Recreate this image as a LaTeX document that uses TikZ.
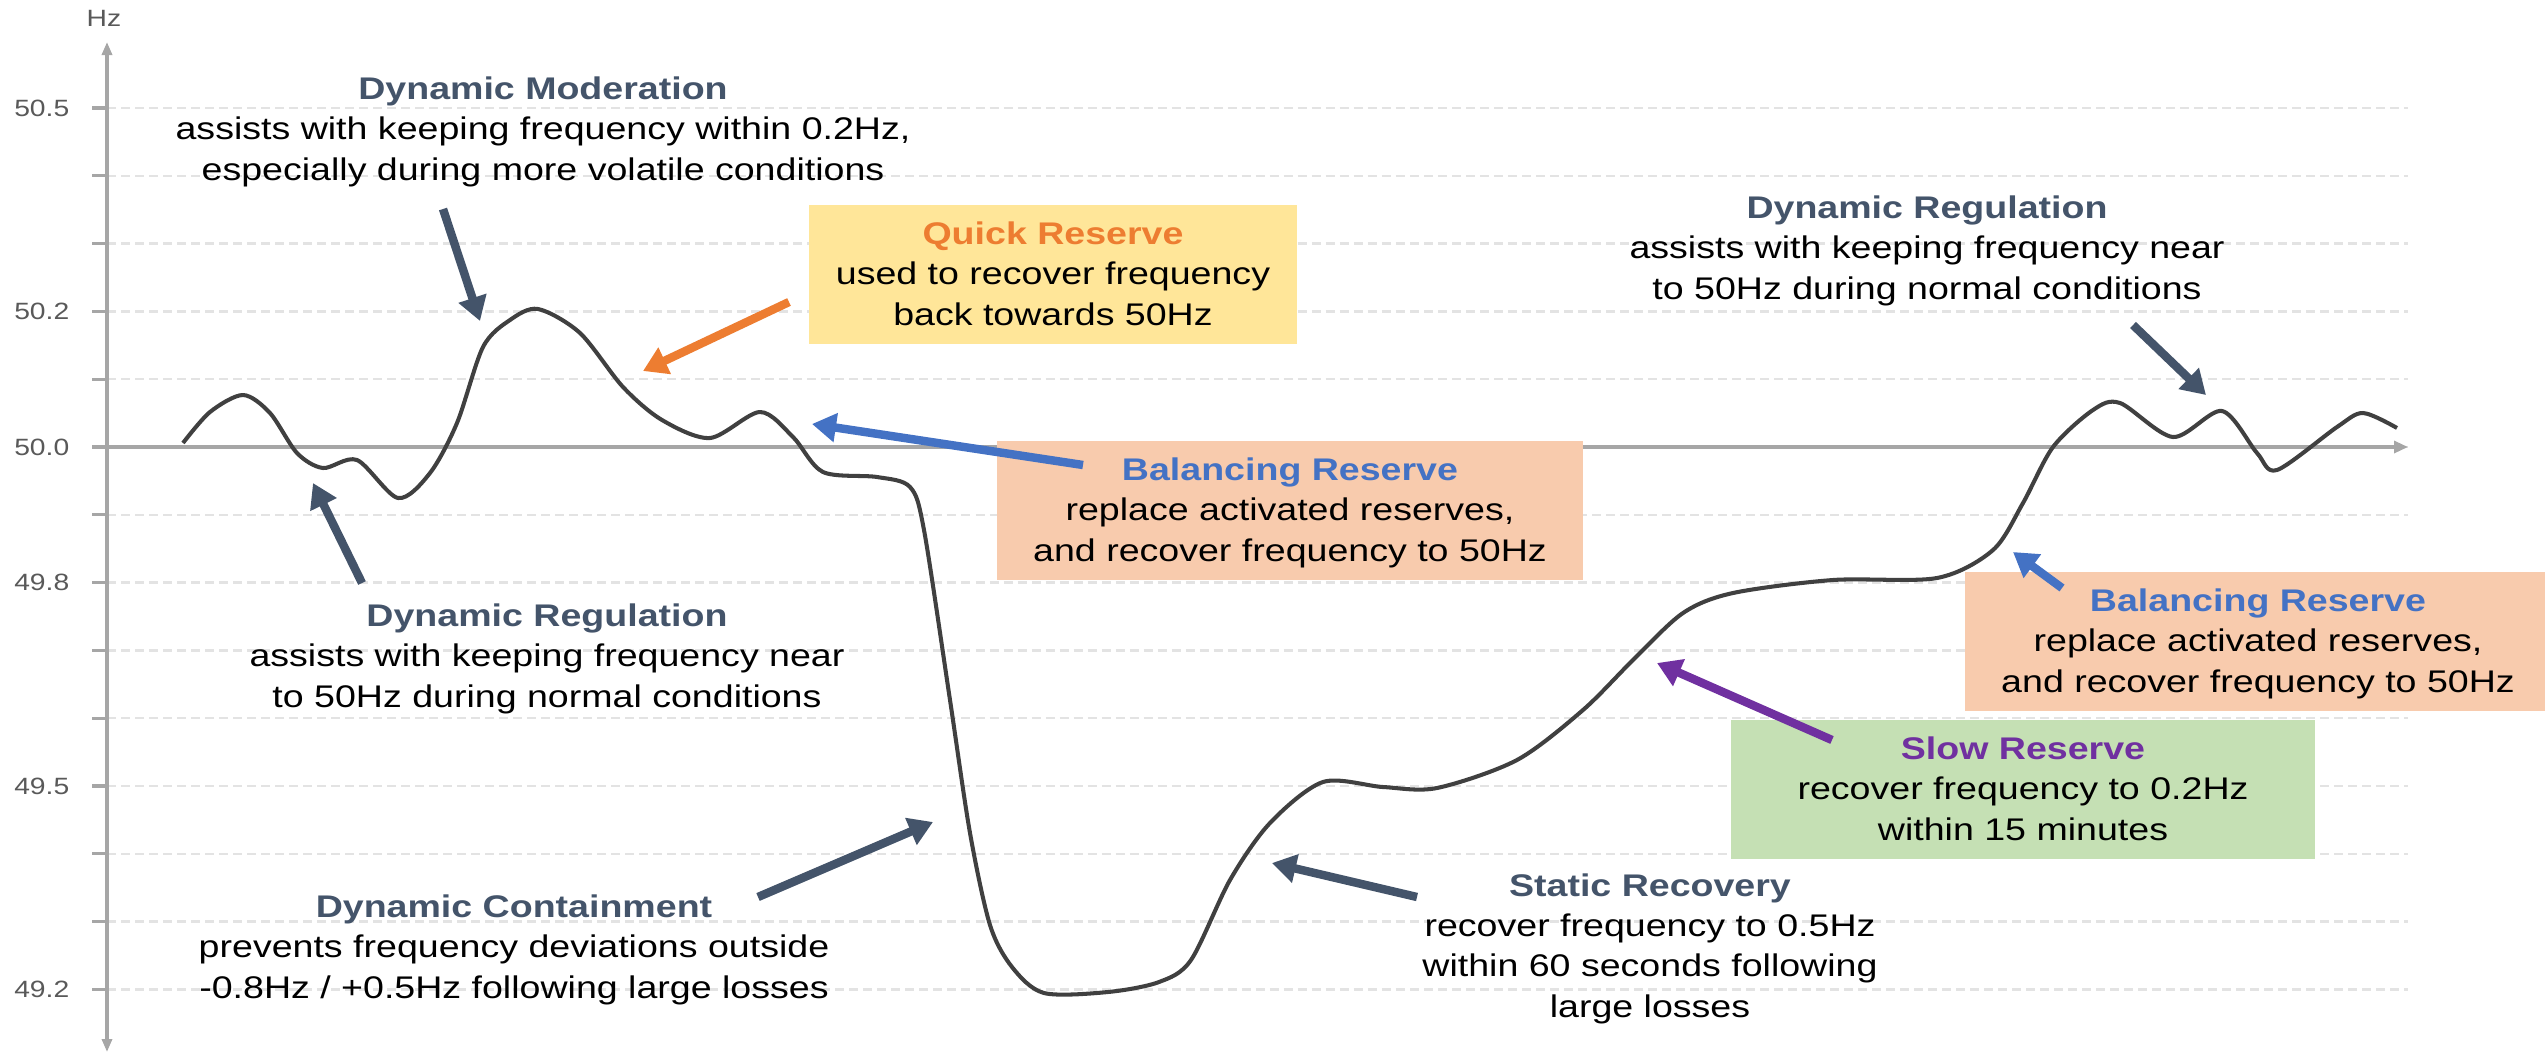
\documentclass[tikz,border=0pt]{standalone}
\usepackage{fontspec}
\setmainfont{Liberation Sans}[FakeStretch=1.2]
\usetikzlibrary{arrows.meta}

\definecolor{slate}{HTML}{44546A}
\definecolor{quickor}{HTML}{ED7D31}
\definecolor{balblue}{HTML}{4472C4}
\definecolor{slowpurple}{HTML}{7030A0}
\definecolor{quickfill}{HTML}{FFE699}
\definecolor{balfill}{HTML}{F8CBAD}
\definecolor{slowfill}{HTML}{C5E0B4}
\definecolor{axisgray}{HTML}{A6A6A6}
\definecolor{gridgray}{HTML}{E3E3E3}
\definecolor{curvegray}{HTML}{404040}
\definecolor{ticktext}{HTML}{595959}

\begin{document}
\begin{tikzpicture}[x=0.01cm, y=-0.01cm,
	gridline/.style={gridgray, line width=0.7pt, dash pattern=on 0.09cm off 0.05cm},
	axisline/.style={axisgray, line width=0.9pt},
	freqline/.style={curvegray, line width=1.15pt, line join=round},
	pointer/.style={line width=2.4pt, -{Triangle[length=0.24cm, width=0.28cm]}},
	note/.style={align=center, inner sep=0pt, anchor=base, font=\fontsize{8.9pt}{11.38pt}\selectfont},
	resbox/.style={note, text height=1.2cm, text depth=0.185cm},
	ticklabel/.style={ticktext, inner sep=0pt, anchor=east, font=\fontsize{6.7pt}{8pt}\selectfont}]

\useasboundingbox (0,0) rectangle (2545,1057);

% draw grid lines and ticks
	\foreach \i in {0,...,13}{
		\draw[gridline] (107,{108+67.8*\i}) -- (2408,{108+67.8*\i});
		\draw[axisline] (92,{108+67.8*\i}) -- (107,{108+67.8*\i});
	}

% draw Coordinates
	\draw[axisline, {Triangle[length=0.13cm, width=0.1cm]}-{Triangle[length=0.13cm, width=0.1cm]}] (107,1052) -- (107,42);
	\draw[axisline, -{Triangle[length=0.14cm, width=0.12cm]}] (92,447) -- (2408,447);
	\node[ticklabel, anchor=base] (hz) at (104,26) {Hz};
	\foreach \i/\v in {0/50.5, 3/50.2, 5/50.0, 7/49.8, 10/49.5, 13/49.2}
		\node[ticklabel] (tick\i) at (70,{108+67.8*\i}) {\v};

% frequency trace
	\draw[freqline] plot[smooth] coordinates {
		(183,443) (210,412) (243,395) (270,413) (297,453) (323,468) (357,460)
		(398,498) (430,473) (457,423) (483,347) (510,320) (538,309) (580,333)
		(623,387) (662,420) (710,438) (760,412) (793,437) (823,472) (877,477)
		(910,487) (924,530) (950,700) (970,833) (990,925) (1012,967) (1044,993)
		(1108,992) (1159,982) (1191,960) (1230,880) (1270,823) (1323,782)
		(1383,787) (1437,788) (1517,760) (1583,710) (1633,660) (1683,613)
		(1733,593) (1833,580) (1937,578) (1993,550) (2023,503) (2053,447)
		(2093,410) (2120,403) (2173,437) (2222,411) (2257,453) (2277,470)
		(2337,427) (2363,413) (2397,428)};

% service boxes (placed at the last baseline)
	\node[resbox, fill=quickfill, minimum width=4.88cm] (quick) at (1053,325)
		{\textcolor{quickor}{\bfseries Quick Reserve}\\used to recover frequency\\back towards 50Hz};
	\node[resbox, fill=balfill, minimum width=5.86cm] (balmid) at (1290,561)
		{\textcolor{balblue}{\bfseries Balancing Reserve}\\replace activated reserves,\\and recover frequency to 50Hz};
	\node[resbox, fill=balfill, minimum width=5.86cm] (balright) at (2258,692)
		{\textcolor{balblue}{\bfseries Balancing Reserve}\\replace activated reserves,\\and recover frequency to 50Hz};
	\node[resbox, fill=slowfill, minimum width=5.83cm] (slow) at (2023,840)
		{\textcolor{slowpurple}{\bfseries Slow Reserve}\\recover frequency to 0.2Hz\\within 15 minutes};

% plain notes
	\node[note] (dmod) at (543,180)
		{\textcolor{slate}{\bfseries Dynamic Moderation}\\assists with keeping frequency within 0.2Hz,\\especially during more volatile conditions};
	\node[note] (dregleft) at (547,707)
		{\textcolor{slate}{\bfseries Dynamic Regulation}\\assists with keeping frequency near\\to 50Hz during normal conditions};
	\node[note] (dcont) at (514,998)
		{\textcolor{slate}{\bfseries Dynamic Containment}\\prevents frequency deviations outside\\-0.8Hz / +0.5Hz following large losses};
	\node[note] (dregright) at (1927,299)
		{\textcolor{slate}{\bfseries Dynamic Regulation}\\assists with keeping frequency near\\to 50Hz during normal conditions};
	\node[note] (srec) at (1650,1017)
		{\textcolor{slate}{\bfseries Static Recovery}\\recover frequency to 0.5Hz\\within 60 seconds following\\large losses};

% arrow ends
	\coordinate (dmodA) at (443,209);    \coordinate (dmodB) at (480,321);
	\coordinate (dreglA) at (362,583);   \coordinate (dreglB) at (313,483);
	\coordinate (quickA) at (789,302);   \coordinate (quickB) at (643,371);
	\coordinate (balmA) at (1083,465);   \coordinate (balmB) at (812,424);
	\coordinate (dcontA) at (758,897);   \coordinate (dcontB) at (933,822);
	\coordinate (srecA) at (1417,897);   \coordinate (srecB) at (1272,863);
	\coordinate (slowA) at (1832,740);   \coordinate (slowB) at (1657,663);
	\coordinate (balrA) at (2062,588);   \coordinate (balrB) at (2013,552);
	\coordinate (dregrA) at (2133,325);  \coordinate (dregrB) at (2206,395);

% arrows
	\draw[pointer, slate] (dmodA) -- (dmodB);
	\draw[pointer, slate] (dreglA) -- (dreglB);
	\draw[pointer, quickor] (quickA) -- (quickB);
	\draw[pointer, balblue] (balmA) -- (balmB);
	\draw[pointer, slate] (dcontA) -- (dcontB);
	\draw[pointer, slate] (srecA) -- (srecB);
	\draw[pointer, slowpurple] (slowA) -- (slowB);
	\draw[pointer, balblue] (balrA) -- (balrB);
	\draw[pointer, slate] (dregrA) -- (dregrB);

\end{tikzpicture}
\end{document}
